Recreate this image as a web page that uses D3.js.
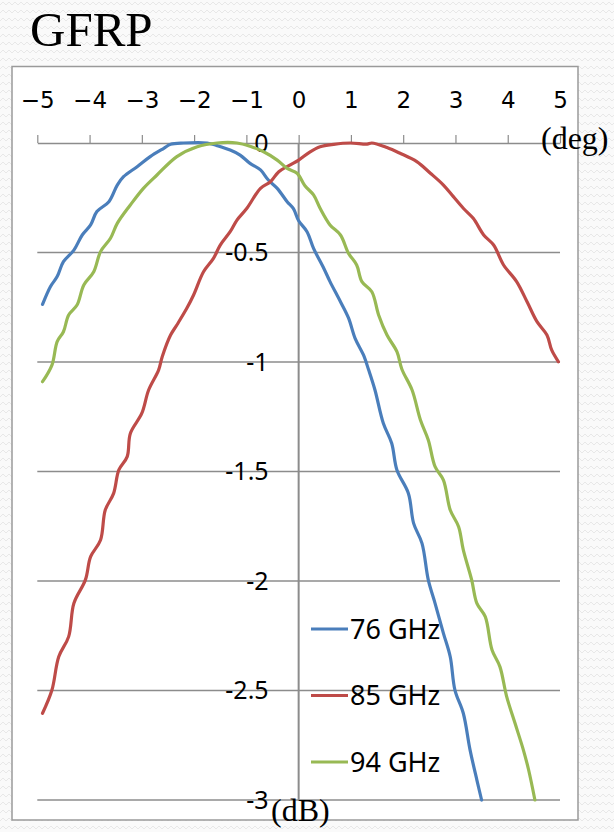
<!DOCTYPE html>
<html>
<head>
<meta charset="utf-8">
<script src="https://cdn.jsdelivr.net/npm/d3@7"></script>
<style>
  body { margin: 0; background: #fff; }
  svg { display: block; }
</style>
</head>
<body>
<div id="chart"></div>
<script>
// chart data (deg, dB)
var seriesNames = ["76 GHz", "85 GHz", "94 GHz"];
var seriesColors = ["#4a7ebb", "#be4b48", "#98b954"];
var xTicks = [-5, -4, -3, -2, -1, 0, 1, 2, 3, 4, 5];
var yTicks = [0, -0.5, -1, -1.5, -2, -2.5, -3];

var data76 = [[-4.90,-0.737],[-4.75,-0.656],[-4.62,-0.61],[-4.50,-0.542],[-4.30,-0.489],[-4.14,-0.42],[-3.98,-0.374],[-3.86,-0.313],[-3.63,-0.268],[-3.47,-0.192],[-3.35,-0.154],[-3.09,-0.108],[-2.84,-0.062],[-2.58,-0.024],[-2.45,-0.006],[-2.20,0],[-1.75,0],[-1.56,-0.012],[-1.31,-0.032],[-1.12,-0.055],[-0.93,-0.093],[-0.73,-0.123],[-0.58,-0.169],[-0.41,-0.207],[-0.22,-0.268],[-0.10,-0.30],[0.0,-0.355],[0.16,-0.405],[0.285,-0.481],[0.48,-0.572],[0.60,-0.633],[0.80,-0.725],[0.955,-0.80],[1.08,-0.892],[1.24,-0.968],[1.34,-1.037],[1.46,-1.128],[1.62,-1.28],[1.78,-1.371],[1.88,-1.493],[2.10,-1.60],[2.20,-1.737],[2.36,-1.828],[2.48,-1.995],[2.61,-2.102],[2.77,-2.239],[2.90,-2.346],[2.99,-2.498],[3.15,-2.604],[3.28,-2.772],[3.41,-2.909],[3.50,-3.0]];

var data85 = [[-4.90,-2.604],[-4.72,-2.498],[-4.59,-2.346],[-4.40,-2.254],[-4.30,-2.102],[-4.08,-1.995],[-3.98,-1.889],[-3.79,-1.813],[-3.70,-1.676],[-3.54,-1.60],[-3.44,-1.493],[-3.28,-1.432],[-3.22,-1.326],[-3.00,-1.234],[-2.87,-1.128],[-2.68,-1.037],[-2.61,-0.976],[-2.45,-0.877],[-2.33,-0.831],[-2.14,-0.755],[-2.01,-0.694],[-1.82,-0.588],[-1.63,-0.527],[-1.50,-0.466],[-1.31,-0.405],[-1.18,-0.352],[-0.99,-0.298],[-0.73,-0.207],[-0.54,-0.177],[-0.38,-0.131],[-0.16,-0.10],[0.0,-0.078],[0.22,-0.04],[0.41,-0.017],[0.67,-0.006],[0.99,0],[1.31,-0.005],[1.40,0],[1.69,-0.021],[1.94,-0.047],[2.26,-0.085],[2.52,-0.138],[2.77,-0.192],[2.96,-0.245],[3.15,-0.298],[3.34,-0.344],[3.54,-0.42],[3.73,-0.466],[3.92,-0.557],[4.17,-0.633],[4.37,-0.725],[4.56,-0.816],[4.75,-0.877],[4.84,-0.945],[4.97,-0.999]];

var data94 = [[-4.90,-1.09],[-4.72,-1.014],[-4.62,-0.907],[-4.50,-0.862],[-4.40,-0.785],[-4.24,-0.74],[-4.11,-0.648],[-3.92,-0.588],[-3.79,-0.496],[-3.60,-0.435],[-3.47,-0.367],[-3.22,-0.283],[-2.97,-0.207],[-2.71,-0.146],[-2.33,-0.062],[-1.94,-0.017],[-1.56,0],[-1.18,0],[-0.93,-0.015],[-0.67,-0.04],[-0.41,-0.078],[-0.22,-0.116],[-0.03,-0.138],[0.12,-0.195],[0.285,-0.237],[0.41,-0.298],[0.60,-0.374],[0.80,-0.42],[0.955,-0.504],[1.11,-0.557],[1.21,-0.633],[1.40,-0.679],[1.53,-0.785],[1.69,-0.877],[1.88,-0.953],[1.975,-1.033],[2.17,-1.128],[2.33,-1.265],[2.48,-1.356],[2.61,-1.478],[2.77,-1.539],[2.90,-1.676],[3.06,-1.752],[3.15,-1.858],[3.31,-1.995],[3.41,-2.102],[3.57,-2.163],[3.70,-2.315],[3.85,-2.391],[3.98,-2.528],[4.14,-2.65],[4.30,-2.772],[4.40,-2.863],[4.52,-3.0]];

var allData = [data76, data85, data94];

var width = 614, height = 832;

var svg = d3.select("#chart")
  .append("svg")
  .attr("width", width)
  .attr("height", height);

// zigzag background texture
var pat = svg.append("defs").append("pattern")
  .attr("id", "zig")
  .attr("width", 12)
  .attr("height", 8)
  .attr("patternUnits", "userSpaceOnUse");
pat.append("rect").attr("width", 12).attr("height", 8).attr("fill", "#fafafa");
pat.append("path")
  .attr("d", "M0,5 L3,2 L6,5 L9,2 L12,5")
  .attr("fill", "none")
  .attr("stroke", "#e8e8e8")
  .attr("stroke-width", 1);
svg.append("rect").attr("width", width).attr("height", height).attr("fill", "url(#zig)");

// title
svg.append("text")
  .attr("x", 30)
  .attr("y", 46)
  .text("GFRP")
  .style("font-family", "Liberation Serif, serif")
  .style("font-size", "49px")
  .style("fill", "#000");

// chart frame
svg.append("rect")
  .attr("x", 12)
  .attr("y", 66.5)
  .attr("width", 566)
  .attr("height", 753.5)
  .attr("fill", "#fff")
  .attr("stroke", "#9a9a9a")
  .attr("stroke-width", 1.5);

// scales
var x = d3.scaleLinear().domain([-5, 5]).range([37.3, 560]);
var y = d3.scaleLinear().domain([-3, 0]).range([800, 143]);

// horizontal gridlines
svg.selectAll("grid")
  .data(yTicks.filter(function(d) { return d < 0; }))
  .enter()
  .append("line")
    .attr("x1", x(-5))
    .attr("x2", x(5))
    .attr("y1", function(d) { return y(d); })
    .attr("y2", function(d) { return y(d); })
    .attr("stroke", "#8c8c8c")
    .attr("stroke-width", 1.4);

// y axis line at 0 deg
svg.append("line")
  .attr("x1", x(0)).attr("x2", x(0))
  .attr("y1", y(0)).attr("y2", y(-3))
  .attr("stroke", "#8c8c8c")
  .attr("stroke-width", 2);

// x axis along the top (0 dB)
var xAxis = svg.append("g")
  .attr("transform", "translate(0," + y(0) + ")")
  .call(d3.axisTop(x).tickValues(xTicks).tickSize(8).tickPadding(27).tickSizeOuter(0));
xAxis.select(".domain").attr("stroke", "#8c8c8c").attr("stroke-width", 1.6);
xAxis.selectAll(".tick line").attr("stroke", "#8c8c8c").attr("stroke-width", 1.2);
xAxis.selectAll(".tick text")
  .style("font-family", "DejaVu Sans, sans-serif")
  .style("font-size", "23px")
  .style("fill", "#000");

// y tick labels
var yAxis = svg.append("g")
  .attr("transform", "translate(" + x(0) + ",0)")
  .call(d3.axisLeft(y).tickValues(yTicks).tickSize(0).tickPadding(30)
    .tickFormat(function(d) { return String(d); }));
yAxis.select(".domain").remove();
yAxis.selectAll(".tick text")
  .style("font-family", "Noto Sans, sans-serif")
  .style("font-size", "25px")
  .style("fill", "#000");

// the three curves
var line = d3.line()
  .x(function(d) { return x(d[0]); })
  .y(function(d) { return y(d[1]); })
  .curve(d3.curveCatmullRom.alpha(0.5));

svg.selectAll("curves")
  .data(allData)
  .enter()
  .append("path")
    .attr("d", function(d) { return line(d); })
    .attr("stroke", function(d, i) { return seriesColors[i]; })
    .attr("stroke-width", 3.2)
    .attr("stroke-linejoin", "round")
    .attr("stroke-linecap", "round")
    .attr("fill", "none");

// legend
var legend = svg.selectAll("legend")
  .data(seriesNames)
  .enter()
  .append("g")
    .attr("transform", function(d, i) { return "translate(311," + (629 + i * 66.5) + ")"; });
legend.append("line")
  .attr("x1", 0).attr("x2", 37)
  .attr("stroke", function(d, i) { return seriesColors[i]; })
  .attr("stroke-width", 3.2);
legend.append("text")
  .attr("x", 39)
  .attr("y", 9.5)
  .text(function(d) { return d; })
  .style("font-family", "Noto Sans, sans-serif")
  .style("font-size", "27px")
  .style("fill", "#000");

// unit labels
svg.append("text")
  .attr("x", 541)
  .attr("y", 149)
  .text("(deg)")
  .style("font-family", "Liberation Serif, serif")
  .style("font-size", "32px")
  .style("fill", "#000");
svg.append("text")
  .attr("x", 271)
  .attr("y", 821)
  .text("(dB)")
  .style("font-family", "Liberation Serif, serif")
  .style("font-size", "32px")
  .style("fill", "#000");
</script>
</body>
</html>
